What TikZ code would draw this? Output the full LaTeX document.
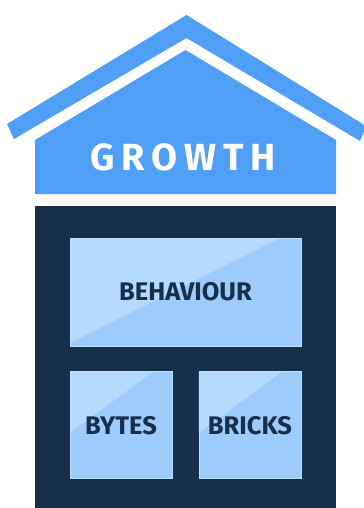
\documentclass[tikz,border=0pt]{standalone}
\usepackage{fontspec}
\setmainfont{Fira Sans}
\usetikzlibrary{positioning, calc}
\usepackage{xcolor}
\definecolor{roofblue}{RGB}{78, 159, 245}
\definecolor{wallnavy}{RGB}{21, 47, 77}
\definecolor{paneblue}{RGB}{157, 203, 251}
\definecolor{paneshine}{RGB}{181, 218, 254}
\definecolor{paneedge}{RGB}{190, 224, 255}

\begin{document}
\begin{tikzpicture}[
    x=0.02cm, y=-0.02cm,
    pane/.style={
      fill=paneblue, draw=paneedge, line width=0.5pt,
      text=wallnavy, font=\fontsize{14.5}{17}\bfseries\selectfont
    },
    shine/.style 2 args={
      path picture={
        \fill[paneshine] (path picture bounding box.north west)
          -- ($(path picture bounding box.north west)!#1!(path picture bounding box.north east)$)
          -- ($(path picture bounding box.north west)!#2!(path picture bounding box.south west)$)
          -- cycle;
      }
    },
]
    \useasboundingbox (0,0) rectangle (363,508);

    % roof and gable
    \fill[roofblue] (7,124) -- (186.5,15) -- (366,126) -- (360,141)
      -- (186.5,38) -- (14,139) -- cycle;
    \fill[roofblue] (35,194) -- (35,140) -- (185.5,50) -- (336,140)
      -- (336,194) -- cycle;
    \node[text=white, font=\fontsize{21.5}{25}\bfseries\selectfont\addfontfeatures{LetterSpace=18}]
      (title) at (183,157) {GROWTH};

    % building body
    \fill[wallnavy] (35,206) rectangle (336,510);

    % windows
    \node[pane, shine={0.91}{0.97}, minimum width=4.62cm, minimum height=2.16cm]
      (behaviour) at (185.5,292) {BEHAVIOUR};
    \node[pane, shine={0.81}{0.57}, minimum width=2.04cm, minimum height=2.14cm,
          below=0.5cm of behaviour.south west, anchor=north west] (bytes) {BYTES};
    \node[pane, shine={0.81}{0.57}, minimum width=2.04cm, minimum height=2.14cm,
          below=0.5cm of behaviour.south east, anchor=north east] (bricks) {BRICKS};
\end{tikzpicture}
\end{document}
